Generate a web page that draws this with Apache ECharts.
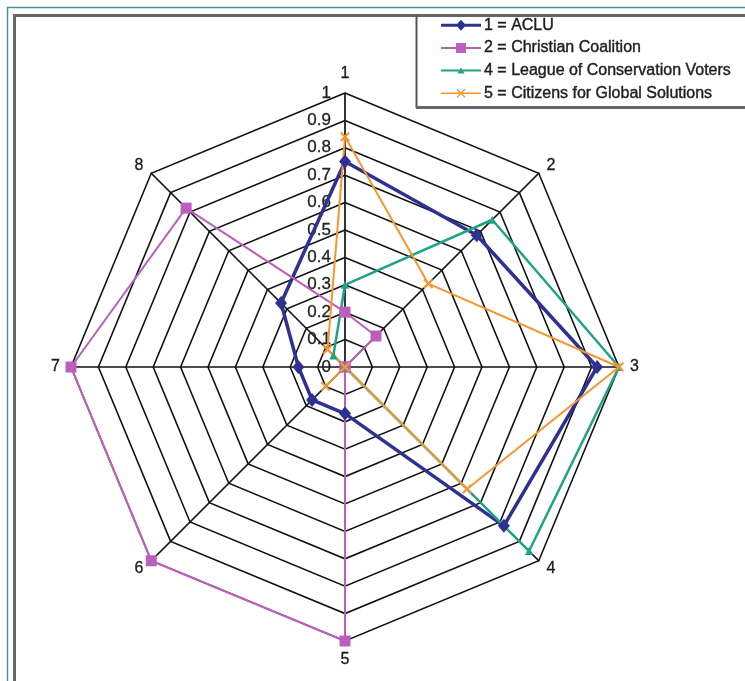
<!DOCTYPE html>
<html>
<head>
<meta charset="utf-8">
<script src="https://cdn.jsdelivr.net/npm/echarts@6/dist/echarts.min.js"></script>
<style>
  html, body { margin: 0; padding: 0; background: #ffffff; }
  #chart { width: 745px; height: 681px; }
</style>
</head>
<body>
<div id="chart"></div>
<script>
// Spokes of the radar, numbered clockwise from the top
const axisNames = ['1', '2', '3', '4', '5', '6', '7', '8'];

// Series names as shown in the legend
const seriesNames = [
  '1 = ACLU',
  '2 = Christian Coalition',
  '4 = League of Conservation Voters',
  '5 = Citizens for Global Solutions'
];

// Scores on spokes 1..8 for each group
const aclu = [0.75, 0.68, 0.92, 0.82, 0.17, 0.17, 0.17, 0.33];
const christianCoalition = [0.20, 0.16, 0, 0, 1.0, 1.0, 1.0, 0.82];
const conservationVoters = [0.30, 0.76, 1.0, 0.95, 0, 0, 0, 0.06];
const globalSolutions = [0.84, 0.43, 1.0, 0.63, 0, 0.10, 0, 0.09];

// Ring values 0, 0.1, ... 1
const scaleMin = 0;
const scaleMax = 1;
const scaleSteps = 10;

// ECharts lays radar spokes out counter-clockwise; this order puts
// spoke 1 on top and walks the rest clockwise.
const spokeOrder = [0, 7, 6, 5, 4, 3, 2, 1];
const reorder = arr => spokeOrder.map(i => arr[i]);

const colors = ['#2E3192', '#BC5FBC', '#1FA386', '#F7962F'];

const xMark = 'path://M0,1.5L1.5,0L5,3.5L8.5,0L10,1.5L6.5,5L10,8.5L8.5,10L5,6.5L1.5,10L0,8.5L3.5,5Z';

// Legend keys: a line with the series marker in its middle (40x14 box)
const corners = 'M0,0L0,0ZM40,14L40,14Z';
const legendIcons = [
  'path://' + corners + 'M0,5.5L40,5.5L40,8.5L0,8.5ZM20,1.5L25,7L20,12.5L15,7Z',
  'path://' + corners + 'M0,6L40,6L40,8L0,8ZM15,2L25,2L25,12L15,12Z',
  'path://' + corners + 'M0,6L40,6L40,8L0,8ZM16.5,10L20,4L23.5,10Z',
  'path://' + corners + 'M0,6.25L40,6.25L40,7.75L0,7.75Z' +
    'M15.5,3.5L16.5,2.5L20,6L23.5,2.5L24.5,3.5L21,7L24.5,10.5L23.5,11.5L20,8L16.5,11.5L15.5,10.5L19,7Z'
];

const seriesValues = [aclu, christianCoalition, conservationVoters, globalSolutions];
const symbols = ['diamond', 'rect', 'triangle', xMark];
const symbolSizes = [[12, 14], 11, 8, 10];
const lineWidths = [3.5, 2, 2.5, 2];

const indicator = spokeOrder.map(i => {
  const ind = { name: axisNames[i], min: scaleMin, max: scaleMax };
  if (i === 0) {
    ind.axisLabel = {
      show: true,
      fontSize: 17,
      color: '#222',
      textBorderColor: '#222',
      textBorderWidth: 0.3,
      margin: 14,
      fontFamily: 'Liberation Sans, Arial, sans-serif'
    };
  }
  return ind;
});

const chart = echarts.init(document.getElementById('chart'), null, { renderer: 'canvas' });

const option = {
  animation: false,
  backgroundColor: '#ffffff',
  textStyle: { fontFamily: 'Liberation Sans, Arial, sans-serif' },
  legend: {
    orient: 'vertical',
    left: 441,
    top: 17,
    padding: 0,
    itemWidth: 40,
    itemHeight: 14,
    itemGap: 6.3,
    selectedMode: false,
    textStyle: {
      fontSize: 16,
      color: '#1e1e1e',
      textBorderColor: '#1e1e1e',
      textBorderWidth: 0.4,
      padding: [0, 0, 0, -2]
    },
    data: seriesNames.map((n, k) => ({
      name: n,
      icon: legendIcons[k],
      itemStyle: { color: colors[k], borderWidth: 0 }
    }))
  },
  radar: {
    center: [345, 367],
    radius: 274,
    startAngle: 90,
    splitNumber: scaleSteps,
    shape: 'polygon',
    nameGap: 11,
    axisName: {
      color: '#1a1a1a',
      fontSize: 16,
      textBorderColor: '#1a1a1a',
      textBorderWidth: 0.3,
      fontFamily: 'Liberation Sans, Arial, sans-serif'
    },
    axisLine: { lineStyle: { color: '#111', width: 1.7 } },
    splitLine: { lineStyle: { color: '#111', width: 1.6 } },
    splitArea: { show: false },
    axisTick: { show: false },
    axisLabel: { show: false },
    indicator: indicator
  },
  series: seriesValues.map((vals, k) => ({
    type: 'radar',
    name: seriesNames[k],
    symbol: symbols[k],
    symbolSize: symbolSizes[k],
    lineStyle: { color: colors[k], width: lineWidths[k] },
    itemStyle: { color: colors[k] },
    data: [{ name: seriesNames[k], value: reorder(vals) }]
  })),
  graphic: [
    // outer teal edge
    { type: 'polyline', silent: true, shape: { points: [[7.5, 681], [7.5, 7.5], [745, 7.5]] },
      style: { stroke: '#4F9199', lineWidth: 1.5, fill: null } },
    // grey plot frame
    { type: 'polyline', silent: true, shape: { points: [[14.5, 681], [14.5, 15.5], [745, 15.5]] },
      style: { stroke: '#666', lineWidth: 3, fill: null } },
    // legend box
    { type: 'line', silent: true, shape: { x1: 416.5, y1: 15, x2: 416.5, y2: 108 },
      style: { stroke: '#555', lineWidth: 2 } },
    { type: 'line', silent: true, shape: { x1: 416, y1: 107.5, x2: 745, y2: 107.5 },
      style: { stroke: '#666', lineWidth: 3 } }
  ]
};

chart.setOption(option);
</script>
</body>
</html>
